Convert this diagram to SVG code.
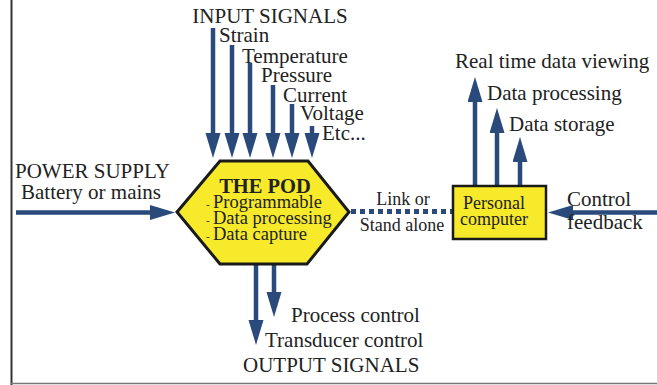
<svg xmlns="http://www.w3.org/2000/svg" width="657" height="385" viewBox="0 0 657 385">
<style>
.t{font-family:"Liberation Serif","Times New Roman",serif;fill:#222;font-size:21px}
.s{font-size:18px}
.h{font-size:18.5px}
.b{font-weight:bold;font-size:20.5px}
.c{stroke:#2b4a7c;stroke-width:4.5;fill:none;marker-end:url(#ah)}
</style>
<defs>
<marker id="ah" markerUnits="userSpaceOnUse" markerWidth="26" markerHeight="16" refX="15" refY="7.5" orient="auto" viewBox="0 0 26 16">
<path d="M0,0 L25,7.5 L0,15 z" fill="#2b4a7c"/>
</marker>
</defs>
<rect width="657" height="385" fill="#fff"/>
<line x1="11.5" y1="0" x2="11.5" y2="385" stroke="#333" stroke-width="2"/>
<line x1="11" y1="383.5" x2="657" y2="383.5" stroke="#777" stroke-width="1.5"/>

<g id="connectors">
<line class="c" x1="213" y1="28" x2="213" y2="148"/>
<line class="c" x1="232" y1="45" x2="232" y2="148"/>
<line class="c" x1="250" y1="63" x2="250" y2="148"/>
<line class="c" x1="273" y1="85" x2="273" y2="148"/>
<line class="c" x1="292" y1="104" x2="292" y2="148"/>
<line class="c" x1="312" y1="126" x2="312" y2="148"/>
<line class="c" x1="16" y1="212.5" x2="165" y2="212.5"/>
<line class="c" x1="256" y1="264" x2="256" y2="335"/>
<line class="c" x1="274" y1="264" x2="274" y2="307"/>
<line x1="351" y1="211.5" x2="452" y2="211.5" stroke="#2b4a7c" stroke-width="5" stroke-dasharray="5 4"/>
<line class="c" x1="475" y1="186" x2="475" y2="87"/>
<line class="c" x1="497" y1="186" x2="497" y2="118"/>
<line class="c" x1="520" y1="186" x2="520" y2="147"/>
<line class="c" x1="657" y1="212.5" x2="558" y2="212.5"/>
</g>

<g id="input-signals">
<text class="t" x="270" y="23" text-anchor="middle">INPUT SIGNALS</text>
<text class="t" x="219" y="42">Strain</text>
<text class="t" x="242" y="63">Temperature</text>
<text class="t" x="261" y="82">Pressure</text>
<text class="t" x="283" y="102">Current</text>
<text class="t" x="300" y="120">Voltage</text>
<text class="t" x="322" y="140">Etc...</text>
</g>

<g id="power-supply">
<text class="t" x="15" y="178">POWER SUPPLY</text>
<text class="t" x="21" y="199">Battery or mains</text>
</g>

<g id="pod">
<polygon points="177,212 220,161 308,161 349,212 307,264 220,264" fill="#f6ea2a" stroke="#1a1a1a" stroke-width="3" stroke-linejoin="miter"/>
<text class="t b" x="265" y="193" text-anchor="middle">THE POD</text>
<text class="t h" x="206" y="208"><tspan font-size="11">-</tspan><tspan x="213">Programmable</tspan></text>
<text class="t h" x="206" y="224"><tspan font-size="11">-</tspan><tspan x="213">Data processing</tspan></text>
<text class="t h" x="206" y="240"><tspan font-size="11">-</tspan><tspan x="213">Data capture</tspan></text>
</g>

<g id="link">
<text class="t s" x="403" y="205" text-anchor="middle">Link or</text>
<text class="t s" x="402" y="231" text-anchor="middle">Stand alone</text>
</g>

<g id="pc">
<rect x="453" y="186" width="93" height="53" fill="#f6ea2a" stroke="#1a1a1a" stroke-width="2.5"/>
<text class="t s" x="463" y="209">Personal</text>
<text class="t s" x="460" y="225">computer</text>
</g>

<g id="pc-outputs">
<text class="t" x="455" y="68">Real time data viewing</text>
<text class="t" x="487" y="100">Data processing</text>
<text class="t" x="509" y="131">Data storage</text>
</g>

<g id="control-feedback">
<text class="t" x="567" y="206">Control</text>
<text class="t" x="567" y="229">feedback</text>
</g>

<g id="output-signals">
<text class="t" x="291" y="322">Process control</text>
<text class="t" x="265" y="347">Transducer control</text>
<text class="t" x="243" y="372">OUTPUT SIGNALS</text>
</g>
</svg>
